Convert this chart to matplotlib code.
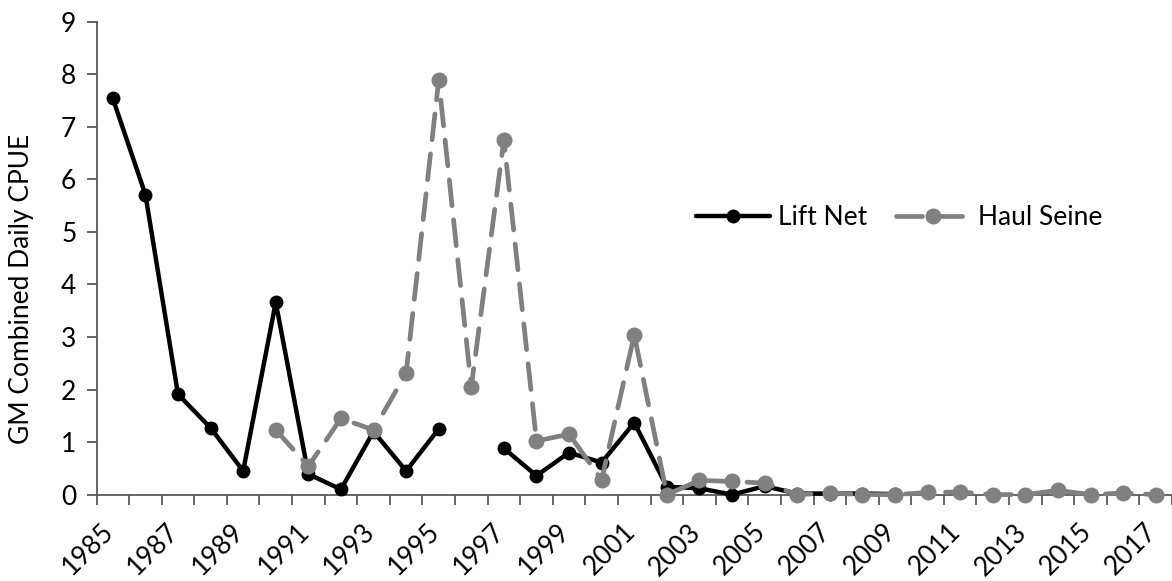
import numpy as np
import matplotlib
matplotlib.use("Agg")
import matplotlib.pyplot as plt
import matplotlib.transforms as mtrans

years = list(range(1985, 2018))

# Lift Net (None = no sample that year)
lift_net = [7.54, 5.71, 1.91, 1.27, 0.45, 3.66, 0.39, 0.10, 1.20, 0.45,
            1.25, None, 0.88, 0.36, 0.80, 0.61, 1.37, 0.15, 0.12, 0.00,
            0.16, 0.02, 0.02, 0.02, 0.01, None, None, None, None, None,
            None, None, None]

# Haul Seine
haul_seine = [None, None, None, None, None, 1.23, 0.54, 1.45, 1.23, 2.31,
              7.89, 2.05, 6.75, 1.02, 1.15, 0.28, 3.04, 0.00, 0.27, 0.25,
              0.22, 0.00, 0.03, 0.00, 0.00, 0.04, 0.05, 0.00, 0.00, 0.08,
              0.00, 0.03, 0.00]

ln = np.array([np.nan if v is None else v for v in lift_net])
hs = np.array([np.nan if v is None else v for v in haul_seine])
x = np.arange(len(years))

plt.rcParams["font.family"] = ["Lato", "DejaVu Sans"]
axis_col = "#595959"
grey = "#808080"

fig = plt.figure(figsize=(11.72, 5.81), dpi=100)
ax = fig.add_axes([96.5 / 1172, 1 - 494.6 / 581, 1 - 96.5 / 1172, (494.6 - 21.7) / 581])

ax.plot(x, ln, color="black", lw=3.2, marker="o", ms=9, label="Lift Net",
        solid_capstyle="round", clip_on=False, zorder=3)
ax.plot(x, hs, color=grey, lw=3.4, marker="o", ms=10.5, label="Haul Seine",
        dashes=(5.5, 3), dash_capstyle="round", clip_on=False, zorder=4)

unit = 33.0
ax.set_xlim(-0.5, -0.5 + (1172 - 96.5) / unit)
ax.set_ylim(0, 9)
ax.set_yticks(range(0, 10))

ax.set_xticks(np.arange(-0.5, len(years), 1.0))
ax.set_xticklabels([])
ax.set_xticks(x[::2], minor=True)
ax.set_xticklabels([str(y) for y in years[::2]], minor=True, rotation=45,
                   ha="right", va="center", rotation_mode="anchor")
ax.tick_params(axis="x", which="major", direction="out", length=7.5, width=1.3, color=axis_col)
ax.tick_params(axis="x", which="minor", length=0, pad=24, labelsize=19)
ax.tick_params(axis="y", direction="out", length=7.5, width=1.3, color=axis_col, labelsize=19, pad=7)

# nudge the rotated year labels a little to the left
shift = mtrans.ScaledTranslation(-3 / 100, 0, fig.dpi_scale_trans)
for lab in ax.get_xticklabels(minor=True):
    lab.set_transform(lab.get_transform() + shift)

for s in ["top", "right"]:
    ax.spines[s].set_visible(False)
for s in ["left", "bottom"]:
    ax.spines[s].set_color(axis_col)
    ax.spines[s].set_linewidth(1.3)

ax.set_ylabel("GM Combined Daily CPUE", fontsize=19)
ax.yaxis.set_label_coords(-0.058, 0.435)

ax.legend(loc="center left", bbox_to_anchor=((696 - 96.5) / (1172 - 96.5), (494.6 - 218) / (494.6 - 21.7)),
          ncol=2, frameon=False, fontsize=19, handlelength=2.8, handletextpad=0.3,
          columnspacing=1.1, borderaxespad=0, borderpad=0)

fig.savefig("out.png", dpi=100)
